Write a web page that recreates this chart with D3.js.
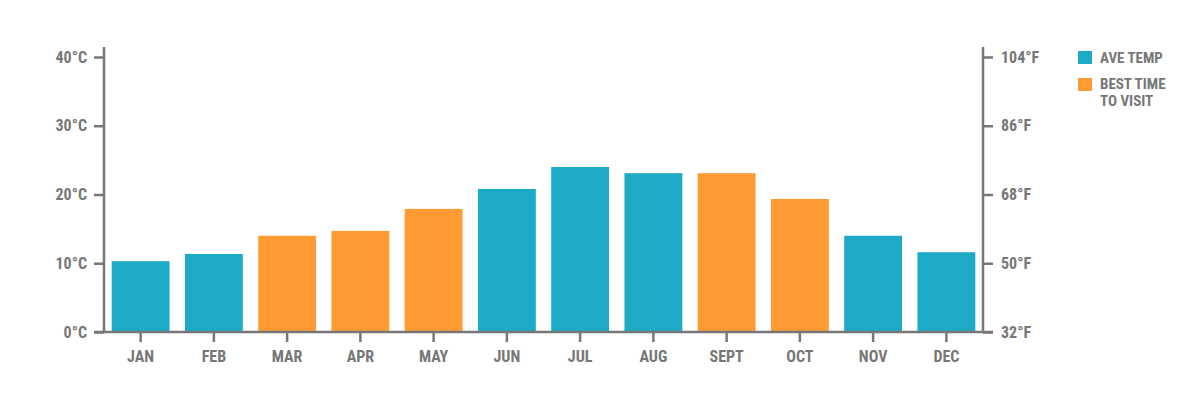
<!DOCTYPE html>
<html><head><meta charset="utf-8">
<script src="https://cdn.jsdelivr.net/npm/d3@7"></script>
<style>
body{margin:0;background:#fff;}
text{font-family:"Liberation Sans Narrow","Roboto Condensed","DejaVu Sans Condensed",sans-serif;font-weight:bold;fill:#777;}
</style></head>
<body><svg id="c" width="1200" height="400"></svg>
<script>
const months = ["JAN","FEB","MAR","APR","MAY","JUN","JUL","AUG","SEPT","OCT","NOV","DEC"];
const temps = [10.3,11.35,14.0,14.7,17.9,20.8,24.0,23.1,23.1,19.35,14.0,11.6];
const bestTime = [false,false,true,true,true,false,false,false,true,true,false,false];
const celsiusTicks = [0,10,20,30,40];
const fahrenheitTicks = [32,50,68,86,104];
const legendLabels = [["AVE TEMP"],["BEST TIME","TO VISIT"]];

const teal = "#1DAAC6", orange = "#FF9B32", grey = "#777";
const fs = "16px";
const svg = d3.select("#c");
const mLeft = 104, mRight = 983, mTop = 57, mBottom = 332;

const x = d3.scaleBand().domain(months).range([mLeft,mRight]).paddingInner(0.21).paddingOuter(0.105);
const y = d3.scaleLinear().domain([0,40]).range([mBottom,mTop]);
const yF = d3.scaleLinear().domain([32,104]).range([mBottom,mTop]);

svg.append("g").selectAll("rect").data(months).join("rect")
  .attr("x",d=>x(d)).attr("width",x.bandwidth())
  .attr("y",(d,i)=>y(temps[i])).attr("height",(d,i)=>mBottom-y(temps[i]))
  .attr("fill",(d,i)=>bestTime[i]?orange:teal);

function styleAxis(g){
  g.selectAll("path").remove();
  g.selectAll("line").attr("stroke",grey).attr("stroke-width",2.5);
  g.selectAll("text").style("font-size",fs).attr("fill",grey);
}

const gl = svg.append("g").attr("transform",`translate(${mLeft},0)`)
  .call(d3.axisLeft(y).tickValues(celsiusTicks).tickSize(10).tickPadding(7).tickFormat(d=>d+"°C"));
styleAxis(gl);
const gr = svg.append("g").attr("transform",`translate(${mRight},0)`)
  .call(d3.axisRight(yF).tickValues(fahrenheitTicks).tickSize(10).tickPadding(8).tickFormat(d=>d+"°F"));
styleAxis(gr);
const gb = svg.append("g").attr("transform",`translate(0,${mBottom})`)
  .call(d3.axisBottom(x).tickSize(10).tickPadding(9));
styleAxis(gb);

svg.append("line").attr("x1",mLeft).attr("x2",mLeft).attr("y1",47).attr("y2",mBottom).attr("stroke",grey).attr("stroke-width",2.5);
svg.append("line").attr("x1",mRight).attr("x2",mRight).attr("y1",47).attr("y2",mBottom).attr("stroke",grey).attr("stroke-width",2.5);
svg.append("line").attr("x1",mLeft-10).attr("x2",mRight+10).attr("y1",mBottom).attr("y2",mBottom).attr("stroke",grey).attr("stroke-width",2.5);

const lg = svg.append("g");
const colors=[teal,orange];
legendLabels.forEach((lines,i)=>{
  const yy = 51 + i*27;
  lg.append("rect").attr("x",1078).attr("y",yy).attr("width",14).attr("height",13).attr("fill",colors[i]);
  lines.forEach((s,j)=>{
    lg.append("text").attr("x",1100).attr("y",yy+12-(lines.length>1?1:0)+j*17).style("font-size","15px").text(s);
  });
});
</script></body></html>
